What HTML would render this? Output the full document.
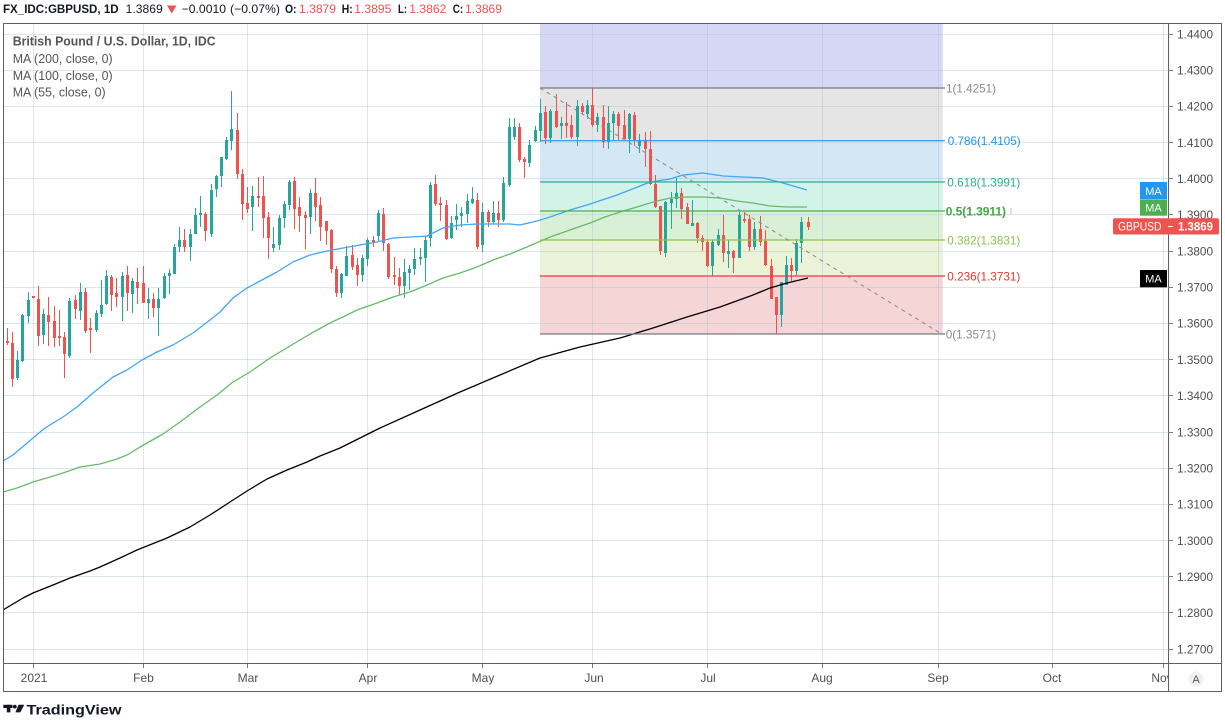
<!DOCTYPE html>
<html>
<head>
<meta charset="utf-8">
<style>
html,body{margin:0;padding:0;background:#fff;}
body{width:1225px;height:725px;overflow:hidden;}
svg{display:block;font-family:"Liberation Sans",Arial,sans-serif;}
</style>
</head>
<body>
<svg width="1225" height="725" viewBox="0 0 1225 725" xmlns="http://www.w3.org/2000/svg">
<rect x="0" y="0" width="1225" height="725" fill="#ffffff"/>
<defs>
<clipPath id="plot"><rect x="3" y="23" width="1165" height="640"/></clipPath>
<clipPath id="taxis"><rect x="3" y="664" width="1165" height="28"/></clipPath>
</defs>

<!-- Fib fills -->
<g>
<rect x="540" y="23" width="402.7" height="65" fill="#d6d6f5"/>
<rect x="540" y="88" width="402.7" height="52.7" fill="#e5e5e5"/>
<rect x="540" y="140.7" width="402.7" height="41.3" fill="#d3e7f4"/>
<rect x="540" y="182" width="402.7" height="29" fill="#d3f3e8"/>
<rect x="540" y="211" width="402.7" height="29" fill="#d9f0d6"/>
<rect x="540" y="240" width="402.7" height="36" fill="#eaf3d7"/>
<rect x="540" y="276" width="402.7" height="58" fill="#f5d5d5"/>
</g>

<!-- Grid -->
<g stroke="rgba(170,195,212,0.42)" stroke-width="1" clip-path="url(#plot)">
<line x1="3" y1="34.5" x2="1168" y2="34.5"/>
<line x1="3" y1="70.5" x2="1168" y2="70.5"/>
<line x1="3" y1="106.5" x2="1168" y2="106.5"/>
<line x1="3" y1="142.5" x2="1168" y2="142.5"/>
<line x1="3" y1="178.5" x2="1168" y2="178.5"/>
<line x1="3" y1="214.5" x2="1168" y2="214.5"/>
<line x1="3" y1="251.5" x2="1168" y2="251.5"/>
<line x1="3" y1="287.5" x2="1168" y2="287.5"/>
<line x1="3" y1="323.5" x2="1168" y2="323.5"/>
<line x1="3" y1="359.5" x2="1168" y2="359.5"/>
<line x1="3" y1="395.5" x2="1168" y2="395.5"/>
<line x1="3" y1="432.5" x2="1168" y2="432.5"/>
<line x1="3" y1="468.5" x2="1168" y2="468.5"/>
<line x1="3" y1="504.5" x2="1168" y2="504.5"/>
<line x1="3" y1="540.5" x2="1168" y2="540.5"/>
<line x1="3" y1="576.5" x2="1168" y2="576.5"/>
<line x1="3" y1="612.5" x2="1168" y2="612.5"/>
<line x1="3" y1="649.5" x2="1168" y2="649.5"/>
<line x1="33.5" y1="23" x2="33.5" y2="663"/>
<line x1="143.5" y1="23" x2="143.5" y2="663"/>
<line x1="247.5" y1="23" x2="247.5" y2="663"/>
<line x1="367.5" y1="23" x2="367.5" y2="663"/>
<line x1="482.5" y1="23" x2="482.5" y2="663"/>
<line x1="592.5" y1="23" x2="592.5" y2="663"/>
<line x1="707.5" y1="23" x2="707.5" y2="663"/>
<line x1="822.5" y1="23" x2="822.5" y2="663"/>
<line x1="938.5" y1="23" x2="938.5" y2="663"/>
<line x1="1052.5" y1="23" x2="1052.5" y2="663"/>
<line x1="1163.5" y1="23" x2="1163.5" y2="663"/>
</g>

<!-- Candles -->
<g clip-path="url(#plot)">
<path fill="none" stroke="#26a69a" stroke-width="1" d="M17.5 351V380M22.5 314V362M28.5 292V323M43.5 309V344M69.5 298V358M80.5 283V320M96.5 310V332M101.5 280V317M106.5 270V305M122.5 272V321M132.5 278V313M148.5 288V319M158.5 288V336M164.5 273V299M169.5 269V294M174.5 244V274M179.5 227V252M190.5 229V261M195.5 208V234M200.5 196V227M211.5 184V237M216.5 175V197M221.5 157V187M226.5 137V160M231.5 91V150M252.5 186V231M273.5 227V252M279.5 215V250M284.5 201V228M289.5 180V210M310.5 189V234M341.5 273V298M346.5 246V276M362.5 255V282M367.5 238V266M378.5 210V241M404.5 259V298M409.5 265V290M414.5 248V275M420.5 248V265M425.5 236V282M430.5 182V247M451.5 216V239M456.5 204V230M461.5 207V227M467.5 194V223M472.5 187V204M482.5 203V252M493.5 201V224M503.5 177V222M509.5 118V187M514.5 118V140M529.5 140V167M535.5 126V142M540.5 99V142M550.5 109V143M561.5 117V139M577.5 100V146M587.5 100V119M597.5 113V132M608.5 106V149M613.5 111V140M629.5 113V153M639.5 134V153M665.5 201V257M671.5 192V229M676.5 178V208M692.5 200V226M712.5 240V276M718.5 229V246M728.5 240V268M739.5 212V258M754.5 222V250M781.5 282V327M786.5 256V285M796.5 239V275M801.5 217V263"/>
<path fill="#26a69a" d="M16 360h3v18h-3zM21 315h3v46h-3zM27 300h3v16h-3zM42 314h3v21h-3zM68 301h3v55h-3zM79 292h3v19h-3zM95 313h3v17h-3zM100 305h3v9h-3zM105 276h3v28h-3zM121 276h3v21h-3zM131 281h3v13h-3zM147 299h3v4h-3zM157 299h3v9h-3zM163 276h3v22h-3zM168 273h3v3h-3zM173 247h3v27h-3zM178 240h3v7h-3zM189 234h3v13h-3zM194 215h3v19h-3zM199 213h3v2h-3zM210 190h3v44h-3zM215 176h3v13h-3zM220 157h3v19h-3zM225 140h3v19h-3zM230 129h3v12h-3zM251 196h3v11h-3zM272 244h3v4h-3zM278 218h3v27h-3zM283 204h3v14h-3zM288 182h3v23h-3zM309 193h3v24h-3zM340 274h3v19h-3zM345 256h3v20h-3zM361 258h3v17h-3zM366 240h3v19h-3zM377 213h3v23h-3zM403 272h3v14h-3zM408 269h3v4h-3zM413 259h3v10h-3zM419 257h3v2h-3zM424 240h3v18h-3zM429 185h3v53h-3zM450 223h3v15h-3zM455 216h3v4h-3zM460 213h3v3h-3zM466 201h3v13h-3zM471 199h3v4h-3zM481 212h3v33h-3zM492 213h3v9h-3zM502 183h3v37h-3zM508 127h3v58h-3zM513 127h3v10h-3zM528 145h3v18h-3zM534 130h3v11h-3zM539 113h3v18h-3zM549 111h3v27h-3zM560 123h3v3h-3zM576 106h3v31h-3zM586 105h3v9h-3zM596 117h3v8h-3zM607 123h3v19h-3zM612 114h3v9h-3zM628 114h3v25h-3zM638 140h3v6h-3zM664 202h3v51h-3zM670 199h3v4h-3zM675 193h3v6h-3zM691 223h3v3h-3zM711 242h3v24h-3zM717 235h3v10h-3zM727 251h3v3h-3zM738 215h3v43h-3zM753 229h3v18h-3zM780 282h3v33h-3zM785 265h3v20h-3zM795 243h3v28h-3zM800 222h3v21h-3z"/>
<path fill="none" stroke="#ef5350" stroke-width="1" d="M7.5 328V345M12.5 332V387M33.5 296V298M38.5 286V346M48.5 297V346M54.5 306V347M59.5 310V346M64.5 332V378M75.5 295V319M85.5 288V333M90.5 318V353M111.5 275V311M116.5 278V307M127.5 266V311M137.5 268V304M143.5 266V303M153.5 293V317M184.5 229V252M205.5 212V241M237.5 113V179M242.5 169V220M247.5 187V213M258.5 177V207M263.5 176V238M268.5 212V259M294.5 177V229M299.5 197V232M305.5 211V249M315.5 178V221M320.5 197V241M326.5 221V245M331.5 229V273M336.5 266V297M352.5 245V270M357.5 258V286M373.5 236V247M383.5 208V251M388.5 243V279M394.5 257V285M399.5 268V295M435.5 175V206M440.5 197V221M446.5 200V240M477.5 193V249M488.5 210V227M498.5 201V227M519.5 123V162M524.5 157V178M545.5 106V144M556.5 94V128M566.5 102V138M571.5 115V139M582.5 103V115M592.5 88V127M603.5 105V148M618.5 112V140M624.5 110V139M634.5 112V146M645.5 132V167M650.5 131V185M655.5 175V208M660.5 206V255M681.5 188V219M687.5 203V224M697.5 222V243M702.5 235V251M707.5 240V267M723.5 215V262M733.5 250V273M744.5 212V223M749.5 215V251M760.5 216V246M765.5 230V266M771.5 259V299M776.5 297V334M791.5 258V281M808.5 217V230"/>
<path fill="#ef5350" d="M6 341h3v2h-3zM11 343h3v36h-3zM32 296h3v2h-3zM37 299h3v37h-3zM47 315h3v7h-3zM53 321h3v17h-3zM58 336h3v2h-3zM63 337h3v17h-3zM74 300h3v9h-3zM84 292h3v39h-3zM89 328h3v2h-3zM110 277h3v18h-3zM115 293h3v4h-3zM126 275h3v18h-3zM136 282h3v6h-3zM142 283h3v20h-3zM152 299h3v9h-3zM183 240h3v7h-3zM204 214h3v17h-3zM236 130h3v44h-3zM241 174h3v30h-3zM246 203h3v6h-3zM257 196h3v2h-3zM262 196h3v22h-3zM267 217h3v21h-3zM293 181h3v28h-3zM298 207h3v9h-3zM304 215h3v3h-3zM314 193h3v14h-3zM319 205h3v22h-3zM325 221h3v10h-3zM330 230h3v39h-3zM335 269h3v24h-3zM351 255h3v12h-3zM356 265h3v10h-3zM372 240h3v2h-3zM382 214h3v29h-3zM387 244h3v33h-3zM393 275h3v2h-3zM398 277h3v9h-3zM434 184h3v20h-3zM439 203h3v2h-3zM445 205h3v34h-3zM476 200h3v47h-3zM487 212h3v10h-3zM497 213h3v7h-3zM518 127h3v33h-3zM523 159h3v3h-3zM544 112h3v26h-3zM555 111h3v16h-3zM565 123h3v3h-3zM570 125h3v12h-3zM581 106h3v6h-3zM591 105h3v20h-3zM602 117h3v25h-3zM617 114h3v12h-3zM623 125h3v14h-3zM633 115h3v25h-3zM644 140h3v9h-3zM649 149h3v35h-3zM654 184h3v23h-3zM659 206h3v45h-3zM680 193h3v16h-3zM686 207h3v17h-3zM696 223h3v15h-3zM701 238h3v4h-3zM706 242h3v24h-3zM722 235h3v18h-3zM732 251h3v7h-3zM743 219h3v2h-3zM748 219h3v28h-3zM759 229h3v13h-3zM764 241h3v24h-3zM770 266h3v33h-3zM775 297h3v18h-3zM790 265h3v6h-3zM807 222h3v5h-3z"/>
</g>

<!-- Moving averages -->
<g fill="none" stroke-width="1.3" stroke-linejoin="round" clip-path="url(#plot)">
<polyline stroke="#42a5f5" points="3,461 13,455 33,438 45,428 63,417 77,407 93,393 113,377 127,370 142,360 157,352 173,345 193,333 210,320 220,312 233,298 247,288 260,281 277,272 293,262 310,255 327,251 343,248 360,245 377,242 393,238 410,237 427,236 443,228 460,225 477,224 493,224 510,224 520,225 537,221 550,217 570,210 590,204 605,199 617,195 630,190 650,182 670,179 683,175 703,173 723,176 743,177 763,178 783,183 807,190"/>
<polyline stroke="#66bb6a" points="3,492 17,488 33,482 50,477 63,473 80,467 100,464 117,459 127,455 140,447 163,434 180,422 200,407 217,395 233,382 250,372 270,358 290,346 310,334 330,323 345,316 357,310 377,303 393,297 410,292 427,285 443,278 460,273 477,267 493,260 510,254 527,247 550,237 570,230 590,223 605,217 620,212 637,207 653,202 670,198 687,197 703,197 720,198 737,201 753,203 770,206 787,207 807,207"/>
<polyline stroke="#000000" points="3,610 23,598 33,593 53,585 70,578 90,571 100,567 120,558 137,550 167,538 190,527 210,515 230,502 247,491 267,479 287,470 307,462 320,456 340,448 360,438 380,428 420,410 460,392 500,375 540,358 580,347 620,338 653,328 687,317 720,307 753,295 770,288 787,283 808,278"/>
</g>

<!-- Fib lines -->
<g stroke-width="1.2">
<line x1="540" y1="88" x2="945" y2="88" stroke="#787b86"/>
<line x1="540" y1="140.7" x2="945" y2="140.7" stroke="#2196f3"/>
<line x1="540" y1="182" x2="945" y2="182" stroke="#2ab08a"/>
<line x1="540" y1="211" x2="945" y2="211" stroke="#4caf50"/>
<line x1="540" y1="240" x2="945" y2="240" stroke="#8bc34a"/>
<line x1="540" y1="276" x2="945" y2="276" stroke="#f23645"/>
<line x1="540" y1="334" x2="945" y2="334" stroke="#787b86"/>
</g>
<line x1="540" y1="88" x2="940" y2="333" stroke="#8a8a8a" stroke-width="1" stroke-dasharray="4 4"/>

<!-- Fib labels -->
<g font-size="12">
<text x="946" y="92.5" fill="#8a8a8a" textLength="50" lengthAdjust="spacingAndGlyphs">1(1.4251)</text>
<text x="947.7" y="145" fill="#2196f3" textLength="73" lengthAdjust="spacingAndGlyphs">0.786(1.4105)</text>
<text x="947.3" y="186.3" fill="#2ab08a" textLength="73" lengthAdjust="spacingAndGlyphs">0.618(1.3991)</text>
<text x="945.7" y="215.3" fill="#3fa843" font-weight="bold" textLength="60.3" lengthAdjust="spacingAndGlyphs">0.5(1.3911)</text>
<text x="947.3" y="244.3" fill="#8bc34a" textLength="73" lengthAdjust="spacingAndGlyphs">0.382(1.3831)</text>
<text x="947.3" y="280.3" fill="#e53935" textLength="73" lengthAdjust="spacingAndGlyphs">0.236(1.3731)</text>
<text x="945.7" y="338.3" fill="#8a8a8a" textLength="50.3" lengthAdjust="spacingAndGlyphs">0(1.3571)</text>
</g>
<line x1="1011" y1="208" x2="1011" y2="214" stroke="#c0c0c0" stroke-width="1"/>

<!-- Legend -->
<g font-size="13" fill="#555">
<text x="12.7" y="45.5" font-weight="bold" textLength="203" lengthAdjust="spacingAndGlyphs">British Pound / U.S. Dollar, 1D, IDC</text>
<text x="12.7" y="63" textLength="100" lengthAdjust="spacingAndGlyphs">MA (200, close, 0)</text>
<text x="12.7" y="80" textLength="100" lengthAdjust="spacingAndGlyphs">MA (100, close, 0)</text>
<text x="12.7" y="96.7" textLength="93" lengthAdjust="spacingAndGlyphs">MA (55, close, 0)</text>
</g>

<!-- Frame -->
<g stroke="#5d606b" stroke-width="1" fill="none">
<line x1="3" y1="23.5" x2="1222" y2="23.5"/>
<line x1="3.5" y1="23" x2="3.5" y2="692"/>
<line x1="1221.5" y1="23" x2="1221.5" y2="692"/>
<line x1="3" y1="691.5" x2="1222" y2="691.5"/>
<line x1="1168.5" y1="23" x2="1168.5" y2="692"/>
<line x1="3" y1="663.5" x2="1222" y2="663.5"/>
</g>

<!-- Price axis -->
<g stroke="#787b86" stroke-width="1">
<line x1="1168" y1="34.5" x2="1173" y2="34.5"/>
<line x1="1168" y1="70.5" x2="1173" y2="70.5"/>
<line x1="1168" y1="106.5" x2="1173" y2="106.5"/>
<line x1="1168" y1="142.5" x2="1173" y2="142.5"/>
<line x1="1168" y1="178.5" x2="1173" y2="178.5"/>
<line x1="1168" y1="214.5" x2="1173" y2="214.5"/>
<line x1="1168" y1="251.5" x2="1173" y2="251.5"/>
<line x1="1168" y1="287.5" x2="1173" y2="287.5"/>
<line x1="1168" y1="323.5" x2="1173" y2="323.5"/>
<line x1="1168" y1="359.5" x2="1173" y2="359.5"/>
<line x1="1168" y1="395.5" x2="1173" y2="395.5"/>
<line x1="1168" y1="432.5" x2="1173" y2="432.5"/>
<line x1="1168" y1="468.5" x2="1173" y2="468.5"/>
<line x1="1168" y1="504.5" x2="1173" y2="504.5"/>
<line x1="1168" y1="540.5" x2="1173" y2="540.5"/>
<line x1="1168" y1="576.5" x2="1173" y2="576.5"/>
<line x1="1168" y1="612.5" x2="1173" y2="612.5"/>
<line x1="1168" y1="649.5" x2="1173" y2="649.5"/>
</g>
<g font-size="12" fill="#4f4f4f">
<text x="1177" y="38.3" textLength="36" lengthAdjust="spacingAndGlyphs">1.4400</text>
<text x="1177" y="74.5" textLength="36" lengthAdjust="spacingAndGlyphs">1.4300</text>
<text x="1177" y="110.7" textLength="36" lengthAdjust="spacingAndGlyphs">1.4200</text>
<text x="1177" y="146.8" textLength="36" lengthAdjust="spacingAndGlyphs">1.4100</text>
<text x="1177" y="183" textLength="36" lengthAdjust="spacingAndGlyphs">1.4000</text>
<text x="1177" y="219.2" textLength="36" lengthAdjust="spacingAndGlyphs">1.3900</text>
<text x="1177" y="255.4" textLength="36" lengthAdjust="spacingAndGlyphs">1.3800</text>
<text x="1177" y="291.6" textLength="36" lengthAdjust="spacingAndGlyphs">1.3700</text>
<text x="1177" y="327.7" textLength="36" lengthAdjust="spacingAndGlyphs">1.3600</text>
<text x="1177" y="363.9" textLength="36" lengthAdjust="spacingAndGlyphs">1.3500</text>
<text x="1177" y="400.1" textLength="36" lengthAdjust="spacingAndGlyphs">1.3400</text>
<text x="1177" y="436.3" textLength="36" lengthAdjust="spacingAndGlyphs">1.3300</text>
<text x="1177" y="472.5" textLength="36" lengthAdjust="spacingAndGlyphs">1.3200</text>
<text x="1177" y="508.6" textLength="36" lengthAdjust="spacingAndGlyphs">1.3100</text>
<text x="1177" y="544.8" textLength="36" lengthAdjust="spacingAndGlyphs">1.3000</text>
<text x="1177" y="581" textLength="36" lengthAdjust="spacingAndGlyphs">1.2900</text>
<text x="1177" y="617.2" textLength="36" lengthAdjust="spacingAndGlyphs">1.2800</text>
<text x="1177" y="653.4" textLength="36" lengthAdjust="spacingAndGlyphs">1.2700</text>
</g>

<!-- Axis labels (MA / price) -->
<rect x="1140" y="182" width="27" height="17" fill="#2196f3"/>
<text x="1153.5" y="195" font-size="11" fill="#fff" text-anchor="middle">MA</text>
<rect x="1140" y="199.3" width="27" height="16.4" fill="#4caf50"/>
<text x="1153.5" y="211.7" font-size="11" fill="#fff" text-anchor="middle">MA</text>
<rect x="1113" y="218.3" width="106" height="16.2" rx="2" fill="#ef5350"/>
<text x="1118" y="230.7" font-size="12" fill="#fff" textLength="43.5" lengthAdjust="spacingAndGlyphs">GBPUSD</text>
<line x1="1168" y1="226.5" x2="1173" y2="226.5" stroke="#fff" stroke-width="1"/>
<text x="1178" y="230.7" font-size="12" fill="#fff" font-weight="bold" textLength="35" lengthAdjust="spacingAndGlyphs">1.3869</text>
<rect x="1140" y="270" width="27" height="17.3" fill="#000"/>
<text x="1153.5" y="282.5" font-size="11" fill="#fff" text-anchor="middle">MA</text>

<!-- Time axis -->
<g stroke="#787b86" stroke-width="1">
<line x1="33.5" y1="664" x2="33.5" y2="668"/>
<line x1="143.5" y1="664" x2="143.5" y2="668"/>
<line x1="247.5" y1="664" x2="247.5" y2="668"/>
<line x1="367.5" y1="664" x2="367.5" y2="668"/>
<line x1="482.5" y1="664" x2="482.5" y2="668"/>
<line x1="592.5" y1="664" x2="592.5" y2="668"/>
<line x1="707.5" y1="664" x2="707.5" y2="668"/>
<line x1="822.5" y1="664" x2="822.5" y2="668"/>
<line x1="938.5" y1="664" x2="938.5" y2="668"/>
<line x1="1052.5" y1="664" x2="1052.5" y2="668"/>
<line x1="1163.5" y1="664" x2="1163.5" y2="668"/>
</g>
<g font-size="12" fill="#4f4f4f" text-anchor="middle" clip-path="url(#taxis)">
<text x="34" y="682">2021</text>
<text x="143.5" y="682">Feb</text>
<text x="248" y="682">Mar</text>
<text x="368" y="682">Apr</text>
<text x="483" y="682">May</text>
<text x="594" y="682">Jun</text>
<text x="708" y="682">Jul</text>
<text x="822" y="682">Aug</text>
<text x="938" y="682">Sep</text>
<text x="1052" y="682">Oct</text>
<text x="1162" y="682">Nov</text>
</g>
<circle cx="1196" cy="679" r="7.5" fill="#eef0f4"/>
<text x="1196" y="683" font-size="11" fill="#555" text-anchor="middle">A</text>

<!-- Header -->
<g font-size="12" fill="#131722">
<text x="3" y="13" font-weight="bold" textLength="115.6" lengthAdjust="spacingAndGlyphs">FX_IDC:GBPUSD, 1D</text>
<text x="125.7" y="13" textLength="37" lengthAdjust="spacingAndGlyphs">1.3869</text>
<polygon points="167,5.5 176.5,5.5 171.75,13.5" fill="#ef5350"/>
<text x="181.7" y="13" textLength="44.3" lengthAdjust="spacingAndGlyphs">−0.0010</text>
<text x="230" y="13" textLength="50" lengthAdjust="spacingAndGlyphs">(−0.07%)</text>
<text x="285" y="13" font-weight="bold" textLength="11.5" lengthAdjust="spacingAndGlyphs">O:</text>
<text x="299" y="13" fill="#ef5350" textLength="37" lengthAdjust="spacingAndGlyphs">1.3879</text>
<text x="341.7" y="13" font-weight="bold" textLength="11" lengthAdjust="spacingAndGlyphs">H:</text>
<text x="354.3" y="13" fill="#ef5350" textLength="37" lengthAdjust="spacingAndGlyphs">1.3895</text>
<text x="398" y="13" font-weight="bold" textLength="9" lengthAdjust="spacingAndGlyphs">L:</text>
<text x="409.3" y="13" fill="#ef5350" textLength="37" lengthAdjust="spacingAndGlyphs">1.3862</text>
<text x="452.7" y="13" font-weight="bold" textLength="10.5" lengthAdjust="spacingAndGlyphs">C:</text>
<text x="465" y="13" fill="#ef5350" textLength="37" lengthAdjust="spacingAndGlyphs">1.3869</text>
</g>

<!-- Footer logo -->
<g fill="#131722">
<rect x="3.3" y="704.8" width="9.2" height="3.2"/>
<rect x="6.8" y="704.8" width="3.6" height="7.6"/>
<circle cx="14.8" cy="706.6" r="1.9"/>
<polygon points="18.5,704.8 24.3,704.8 20.3,712.4 15.4,712.4"/>
<text x="26.5" y="714.5" font-size="13.5" font-weight="bold" textLength="95" lengthAdjust="spacingAndGlyphs">TradingView</text>
</g>
</svg>
</body>
</html>
